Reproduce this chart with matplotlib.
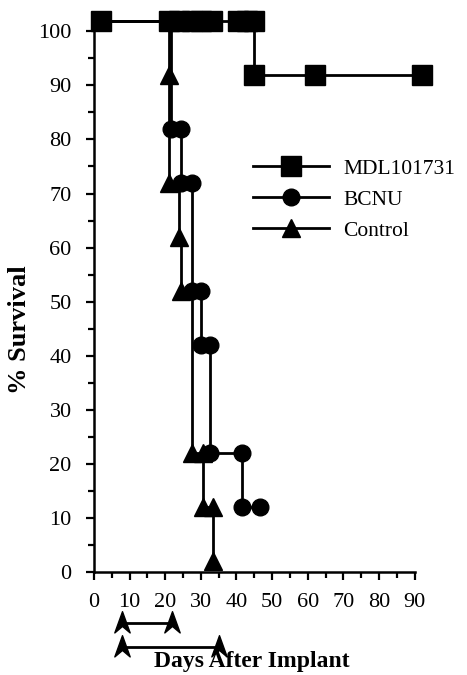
import matplotlib.pyplot as plt
from matplotlib.path import Path
from matplotlib.lines import Line2D
from matplotlib.transforms import blended_transform_factory

plt.rcParams['font.family'] = ['Liberation Serif', 'DejaVu Serif']

# survival (%) against days; the marks sit ~2 above the tick values
mdl_days = [2, 21, 24, 27.5, 30, 33, 40.5, 43, 45, 45, 62, 92]
mdl_surv = [102, 102, 102, 102, 102, 102, 102, 102, 102, 92, 92, 92]

bcnu_days = [2, 21.5, 24.5, 24.5, 27.5, 27.5, 30, 30, 32.5, 32.5, 41.5, 41.5, 46.5]
bcnu_surv = [102, 82, 82, 72, 72, 52, 52, 42, 42, 22, 22, 12, 12]

ctrl_days = [2, 21, 21, 24, 24.5, 27.5, 30.5, 30.5, 33.5, 33.5]
ctrl_surv = [102, 92, 72, 62, 52, 22, 22, 12, 12, 2]

# treatment schedules drawn under the x axis
short_course = [8, 22]
long_course = [8, 35]

series = [
    ("MDL101731", mdl_days, mdl_surv, 's', 14),
    ("BCNU", bcnu_days, bcnu_surv, 'o', 12),
    ("Control", ctrl_days, ctrl_surv, '^', 13),
]

arrow = Path([(0, 1), (0.65, -0.8), (0, -0.25), (-0.65, -0.8), (0, 1)],
             [Path.MOVETO, Path.LINETO, Path.LINETO, Path.LINETO, Path.CLOSEPOLY])

fig = plt.figure(figsize=(4.67, 6.75), dpi=100)
ax = fig.add_axes([0.201, 0.1526, 0.687, 0.801])

for name, d, s, m, ms in reversed(series):
    ax.plot(d, s, drawstyle='steps-post', color='black', lw=2,
            marker=m, markersize=ms, clip_on=False)

ax.set_xlim(0, 90)
ax.set_ylim(0, 100)
ax.set_xticks(range(0, 91, 10))
ax.set_xticks(range(0, 91, 5), minor=True)
ax.set_yticks(range(0, 101, 10))
ax.set_yticks(range(0, 101, 5), minor=True)
ax.tick_params(which='major', length=6, width=1.6, labelsize=16)
ax.tick_params(axis='x', which='major', pad=9)
ax.tick_params(axis='y', which='major', pad=10)
ax.tick_params(which='minor', length=4, width=1.6)
for side in ['top', 'right']:
    ax.spines[side].set_visible(False)
for side in ['left', 'bottom']:
    ax.spines[side].set_linewidth(1.8)

handles = [Line2D([], [], color='black', lw=2, marker=m, markersize=ms)
           for name, d, s, m, ms in series]
ax.legend(handles, [sr[0] for sr in series], loc='upper left',
          bbox_to_anchor=(0.461, 0.784), frameon=False, fontsize=15.5,
          handlelength=3.57, handletextpad=0.65, labelspacing=0.5, borderpad=0)

trans = blended_transform_factory(ax.transData, ax.transAxes)
for days, yy in [(short_course, -0.094), (long_course, -0.139)]:
    ax.plot(days, [yy, yy], transform=trans, color='black', lw=2,
            marker=arrow, markersize=17, clip_on=False)

fig.text(20 / 467, 1 - 330 / 675, "% Survival", rotation=90, fontsize=19,
         fontweight='bold', ha='center', va='center')
fig.text(252 / 467, 1 - 662 / 675, "Days After Implant", fontsize=17,
         fontweight='bold', ha='center', va='center')

fig.savefig("out.png", dpi=100)
